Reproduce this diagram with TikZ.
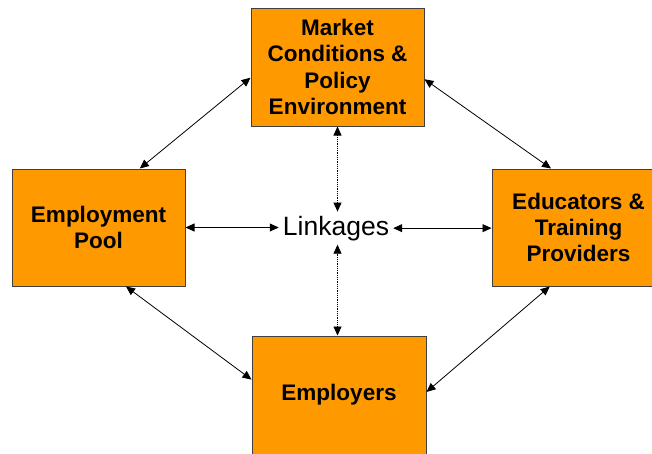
\documentclass[tikz,border=0pt]{standalone}
\usepackage{fontspec}
\setmainfont{Liberation Sans}
\usetikzlibrary{arrows.meta}
\newlength{\du}
\setlength{\du}{1pt}
\definecolor{boxcolor}{rgb}{1.000000, 0.600000, 0.000000}
\definecolor{edgecolor}{rgb}{0.250000, 0.250000, 0.250000}
\tikzset{
  orangebox/.style={draw=edgecolor, fill=boxcolor, line width=1\du, align=center, inner sep=0pt,
    font=\fontsize{22.5}{26.3}\selectfont\bfseries},
  twoway/.style={{Triangle[length=9pt,width=8pt]}-{Triangle[length=9pt,width=8pt]}, line width=0.8\du},
}

\begin{document}
\begin{tikzpicture}
\pgftransformxscale{1.000000}
\pgftransformyscale{-1.000000}
\useasboundingbox (0\du,0\du) rectangle (652\du,453\du);
% boxes
\node[orangebox, minimum width=173\du, minimum height=118\du] (market) at (337.5\du,67\du) {Market\\Conditions \&\\Policy\\Environment};
\node[orangebox, minimum width=173\du, minimum height=117\du] (pool) at (98.5\du,227.5\du) {Employment\\Pool};
\node[orangebox, minimum width=173\du, minimum height=117\du] (educators) at (578.5\du,227.5\du) {Educators \&\\Training\\Providers};
\node[orangebox, minimum width=174\du, minimum height=118\du] (employers) at (339\du,395\du) {Employers};
% centre label
\node[font=\fontsize{26.5}{30}\selectfont, inner sep=4\du, anchor=base] (linkages) at (336\du,235\du) {Linkages};
% links to the centre
\draw[twoway] (pool.east) -- (pool.east -| linkages.west);
\draw[twoway] (linkages.east) -- (linkages.east -| educators.west);
\draw[twoway, densely dotted] (market.south) -- (market.south |- linkages.north);
\draw[twoway, densely dotted] (market.south |- linkages.south) -- (market.south |- employers.north);
% links round the outside
\draw[twoway] (pool.55) -- (market.187);
\draw[twoway] (market.352) -- (educators.115);
\draw[twoway] (pool.295) -- (employers.170);
\draw[twoway] (educators.244) -- (employers.2);
\end{tikzpicture}
\end{document}
